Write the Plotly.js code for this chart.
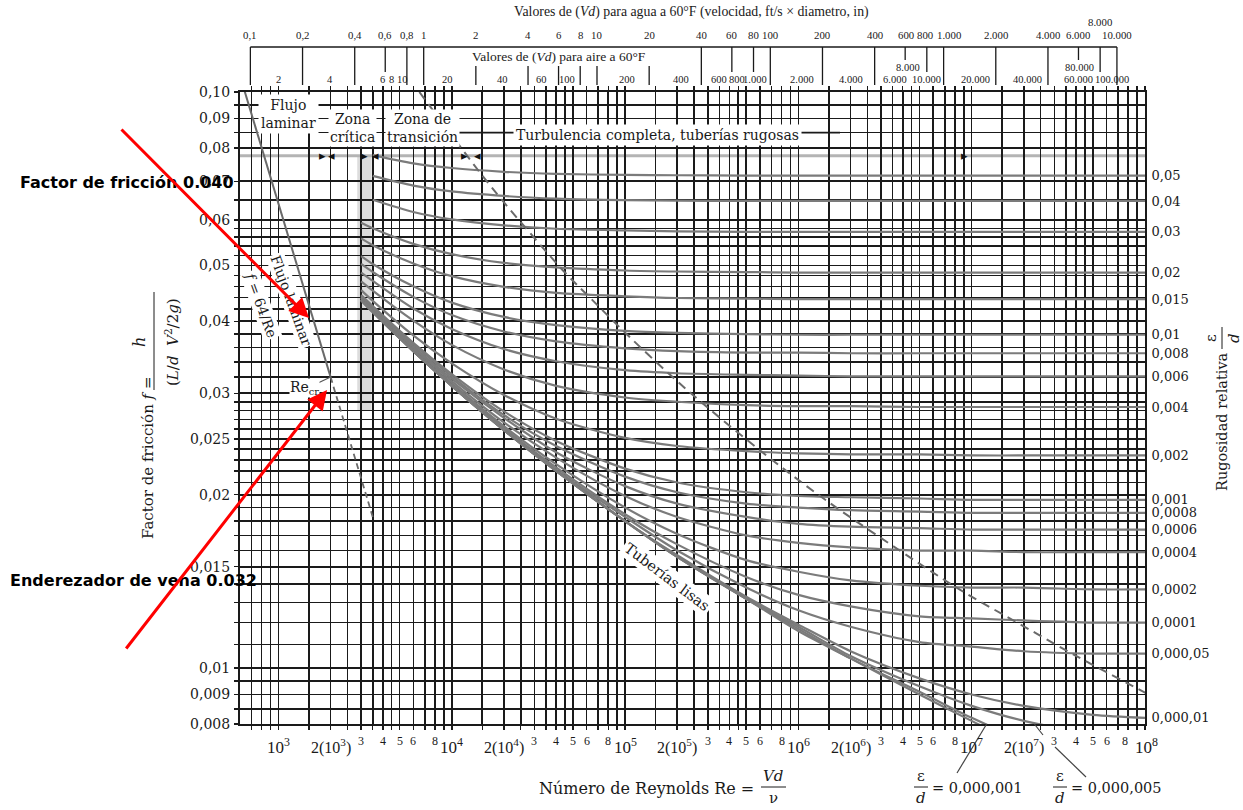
<!DOCTYPE html>
<html><head><meta charset="utf-8">
<script src="https://cdn.plot.ly/plotly-3.0.1.min.js"></script>
<style>html,body{margin:0;padding:0;background:#fff}#chart{width:1243px;height:810px}</style>
</head><body><div id="chart"></div>
<script>
// ---------------- DATA ----------------
const reynolds = [3000, 3500, 6000, 10000, 20000, 40000, 100000, 200000, 500000, 1e6, 2e6, 5e6, 1e7, 2e7, 5e7, 1e8];

const f_0_05     = [null, 0.0777, 0.0752, 0.0738, 0.0727, 0.0721, 0.0718, 0.0717, 0.0716, 0.0716, 0.0716, 0.0716, 0.0716, 0.0716, 0.0716, 0.0716];
const f_0_04     = [null, 0.0715, 0.0688, 0.0672, 0.0660, 0.0653, 0.0649, 0.0648, 0.0647, 0.0647, 0.0647, 0.0647, 0.0647, 0.0647, 0.0647, 0.0647];
const f_0_03     = [null, 0.0650, 0.0619, 0.0601, 0.0587, 0.0579, 0.0575, 0.0573, 0.0572, 0.0572, 0.0572, 0.0572, 0.0572, 0.0572, 0.0572, 0.0572];
const f_0_02     = [0.0593, 0.0580, 0.0545, 0.0523, 0.0505, 0.0496, 0.0490, 0.0488, 0.0487, 0.0486, 0.0486, 0.0486, 0.0486, 0.0486, 0.0486, 0.0486];
const f_0_015    = [0.0557, 0.0542, 0.0504, 0.0479, 0.0459, 0.0448, 0.0442, 0.0439, 0.0438, 0.0437, 0.0437, 0.0437, 0.0437, 0.0437, 0.0437, 0.0437];
const f_0_01     = [0.0519, 0.0503, 0.0460, 0.0431, 0.0407, 0.0394, 0.0385, 0.0382, 0.0380, 0.0379, 0.0379, 0.0379, 0.0379, 0.0379, 0.0379, 0.0379];
const f_0_008    = [0.0503, 0.0487, 0.0441, 0.0410, 0.0384, 0.0369, 0.0359, 0.0355, 0.0353, 0.0353, 0.0352, 0.0352, 0.0352, 0.0352, 0.0352, 0.0352];
const f_0_006    = [0.0486, 0.0470, 0.0421, 0.0388, 0.0358, 0.0341, 0.0329, 0.0325, 0.0323, 0.0322, 0.0321, 0.0321, 0.0321, 0.0321, 0.0321, 0.0321];
const f_0_004    = [0.0469, 0.0452, 0.0401, 0.0364, 0.0330, 0.0309, 0.0295, 0.0290, 0.0286, 0.0285, 0.0285, 0.0284, 0.0284, 0.0284, 0.0284, 0.0284];
const f_0_002    = [0.0453, 0.0434, 0.0378, 0.0338, 0.0298, 0.0271, 0.0251, 0.0243, 0.0238, 0.0236, 0.0235, 0.0235, 0.0234, 0.0234, 0.0234, 0.0234];
const f_0_001    = [0.0444, 0.0425, 0.0367, 0.0324, 0.0279, 0.0248, 0.0222, 0.0210, 0.0202, 0.0199, 0.0198, 0.0197, 0.0196, 0.0196, 0.0196, 0.0196];
const f_0_0008   = [0.0442, 0.0423, 0.0365, 0.0321, 0.0275, 0.0243, 0.0215, 0.0202, 0.0193, 0.0190, 0.0188, 0.0187, 0.0186, 0.0186, 0.0186, 0.0186];
const f_0_0006   = [0.0440, 0.0421, 0.0362, 0.0318, 0.0272, 0.0237, 0.0207, 0.0193, 0.0183, 0.0178, 0.0176, 0.0175, 0.0174, 0.0174, 0.0174, 0.0174];
const f_0_0004   = [0.0439, 0.0419, 0.0360, 0.0315, 0.0267, 0.0232, 0.0199, 0.0183, 0.0170, 0.0165, 0.0162, 0.0160, 0.0160, 0.0159, 0.0159, 0.0159];
const f_0_0002   = [0.0437, 0.0417, 0.0357, 0.0312, 0.0263, 0.0226, 0.0190, 0.0171, 0.0154, 0.0147, 0.0142, 0.0139, 0.0138, 0.0138, 0.0137, 0.0137];
const f_0_0001   = [0.0436, 0.0416, 0.0356, 0.0310, 0.0261, 0.0223, 0.0185, 0.0164, 0.0144, 0.0134, 0.0128, 0.0123, 0.0122, 0.0121, 0.0120, 0.0120];
const f_0_00005  = [0.0436, 0.0416, 0.0356, 0.0310, 0.0260, 0.0221, 0.0183, 0.0160, 0.0138, 0.0126, 0.0118, 0.0111, 0.0109, 0.0107, 0.0106, 0.0106];
const f_0_00001  = [0.0435, 0.0415, 0.0355, 0.0309, 0.0259, 0.0220, 0.0180, 0.0157, 0.0133, 0.0119, 0.0107, 0.0096, 0.0090, 0.0086, 0.0083, 0.0082];
const f_0_000005 = [0.0435, 0.0415, 0.0355, 0.0309, 0.0259, 0.0220, 0.0180, 0.0156, 0.0132, 0.0118, 0.0105, 0.0093, 0.0086, 0.0081, 0.0077, 0.0075];
const f_0_000001 = [0.0435, 0.0415, 0.0355, 0.0309, 0.0259, 0.0220, 0.0180, 0.0156, 0.0132, 0.0117, 0.0104, 0.0091, 0.0082, 0.0075, 0.0069, 0.0066];
const f_smooth   = [0.0435, 0.0415, 0.0355, 0.0309, 0.0259, 0.0220, 0.0180, 0.0156, 0.0132, 0.0116, 0.0104, 0.0090, 0.0081, 0.0073, 0.0065, 0.0060];

const labelledCurves = [f_0_05, f_0_04, f_0_03, f_0_02, f_0_015, f_0_01, f_0_008, f_0_006, f_0_004, f_0_002,
  f_0_001, f_0_0008, f_0_0006, f_0_0004, f_0_0002, f_0_0001, f_0_00005, f_0_00001];
const roughnessLabels = ['0,05','0,04','0,03','0,02','0,015','0,01','0,008','0,006','0,004','0,002',
  '0,001','0,0008','0,0006','0,0004','0,0002','0,0001','0,000,05','0,000,01'];
const extraCurves = [f_0_000005, f_0_000001, f_smooth];

// laminar flow line and its dashed continuation
const reLaminar = [600, 2000];
const fLaminar = [0.1067, 0.032];
const reLaminarExt = [2000, 3500];
const fLaminarExt = [0.032, 0.0183];

// boundary of complete turbulence (dashed)
const reBoundary = [6500, 15000, 19700, 27900, 45000, 64000, 103000, 186000, 297000, 654000, 1.43e6, 3.97e6, 8.5e6, 1.83e7, 3.9e7, 1.05e8];
const fBoundary  = [0.1000, 0.0716, 0.0647, 0.0572, 0.0486, 0.0437, 0.0379, 0.0321, 0.0284, 0.0234, 0.0196, 0.0159, 0.0137, 0.0120, 0.01055, 0.0090];

// axis tick labels
const yLabelVals = [0.008, 0.009, 0.01, 0.015, 0.02, 0.025, 0.03, 0.04, 0.05, 0.06, 0.07, 0.08, 0.09, 0.1];
const yLabelText = ['0,008','0,009','0,01','0,015','0,02','0,025','0,03','0,04','0,05','0,06','0,07','0,08','0,09','0,10'];
const yGrid = [0.008, 0.0085, 0.009, 0.0095, 0.01, 0.011, 0.012, 0.013, 0.014, 0.015, 0.016, 0.017, 0.018, 0.019,
  0.02, 0.021, 0.022, 0.023, 0.024, 0.025, 0.026, 0.027, 0.028, 0.029, 0.03, 0.032, 0.034, 0.036, 0.038,
  0.04, 0.042, 0.044, 0.046, 0.048, 0.05, 0.052, 0.054, 0.056, 0.058, 0.06, 0.065, 0.07, 0.08, 0.085, 0.09, 0.095, 0.1];
const xGridMantissas = [1, 1.5, 2, 2.5, 3, 3.5, 4, 4.5, 5, 6, 7, 8, 9];

const reDecadeVals = [1e3, 1e4, 1e5, 1e6, 1e7, 1e8];
const reDecadeText = ['10<sup>3</sup>','10<sup>4</sup>','10<sup>5</sup>','10<sup>6</sup>','10<sup>7</sup>','10<sup>8</sup>'];
const reTwoVals = [2e3, 2e4, 2e5, 2e6, 2e7];
const reTwoText = ['2(10<sup>3</sup>)','2(10<sup>4</sup>)','2(10<sup>5</sup>)','2(10<sup>6</sup>)','2(10<sup>7</sup>)'];
const reDigitMantissas = [3, 4, 5, 6, 8];
const reDigitDecades = [1e3, 1e4, 1e5, 1e6, 1e7];

// top scales: Vd values (ft/s x in) for water and air at 60 F
const waterVd = [0.1, 0.2, 0.4, 0.6, 0.8, 1, 2, 4, 6, 8, 10, 20, 40, 60, 80, 100, 200, 400, 600, 800, 1000, 2000, 4000, 6000, 8000, 10000];
const waterText = ['0,1','0,2','0,4','0,6','0,8','1','2','4','6','8','10','20','40','60','80','100','200','400','600','800','1.000','2.000','4.000','6.000','8.000','10.000'];
const airVd = [2, 4, 6, 8, 10, 20, 40, 60, 100, 200, 400, 600, 800, 1000, 2000, 4000, 6000, 8000, 10000, 20000, 40000, 60000, 80000, 100000];
const airText = ['2','4','6','8','10','20','40','60','100','200','400','600','800','1.000','2.000','4.000','6.000','8.000','10.000','20.000','40.000','60.000','80.000','100.000'];
const waterReFactor = 6887;  // Re per unit Vd, water 60F
const airReFactor = 527;     // Re per unit Vd, air 60F

// ---------------- STYLE / GEOMETRY ----------------
const waterTickKind = ['F','F','F','M','F','F','B','B','B','B','B','B','F','M','M','F','F','F','S','M','F','F','F','S','M','F'];
const waterShift = {'600': 1, '800': -2, '1.000': 5};
const waterRaised = {'8.000': true};
const airShift = [-4,-5,17,5,-1,-8,-5,3,-10,-2,0,7,4,5,0,-4,10,1,3,0,0,20,0,15];
const airRaised = {'8.000': true, '80.000': true};

const X0 = Math.log10(600), X1 = 8, Y0 = Math.log10(0.008), Y1 = -1;
const L = 240, T = 92, W = 905, H = 632;
const xp = re => (Math.log10(re) - X0) / (X1 - X0);
const yp = f => (Math.log10(f) - Y0) / (Y1 - Y0);
const pX = x => (x - L) / W;
const pY = y => (T + H - y) / H;

const serif = 'Liberation Serif, Times New Roman, serif';
const wide = 'DejaVu Serif, serif';
const ink = '#1a1a1a';
const curveColor = '#7b7b7b';
const gridColor = '#1a1a1a';

const xGrid = [700, 800, 900];
for (let d = 3; d <= 7; d++) xGridMantissas.forEach(m => xGrid.push(m * Math.pow(10, d)));
xGrid.push(1e8);

// ---------------- TRACES ----------------
const traces = [];
labelledCurves.concat(extraCurves).forEach(f => {
  traces.push({x: reynolds, y: f, type: 'scatter', mode: 'lines', line: {color: curveColor, width: 2.2, shape: 'spline', smoothing: 0.8}, hoverinfo: 'skip', showlegend: false});
});
traces.push({x: reLaminar, y: fLaminar, type: 'scatter', mode: 'lines', line: {color: '#6a6a6a', width: 2}, hoverinfo: 'skip', showlegend: false});
traces.push({x: reLaminarExt, y: fLaminarExt, type: 'scatter', mode: 'lines', line: {color: '#6a6a6a', width: 1.8, dash: '6px,4px'}, hoverinfo: 'skip', showlegend: false});
traces.push({x: reBoundary, y: fBoundary, type: 'scatter', mode: 'lines', line: {color: '#6a6a6a', width: 2, dash: '9px,6px', shape: 'spline'}, hoverinfo: 'skip', showlegend: false});
// carriers for the label axes
const rightVals = labelledCurves.map(f => f[f.length - 1]);
traces.push({x: [1e8], y: [0.05], yaxis: 'y2', type: 'scatter', mode: 'markers', marker: {opacity: 0}, hoverinfo: 'skip', showlegend: false});
traces.push({x: [1e8], y: [0.05], yaxis: 'y3', type: 'scatter', mode: 'markers', marker: {opacity: 0}, hoverinfo: 'skip', showlegend: false});

// ---------------- SHAPES & ANNOTATIONS ----------------
const shapes = [];
const annotations = [];
function lineP(x0, y0, x1, y1, color, width, layer) {
  shapes.push({type: 'line', xref: 'paper', yref: 'paper', x0: pX(x0), y0: pY(y0), x1: pX(x1), y1: pY(y1), line: {color: color, width: width}, layer: layer || 'above'});
}
function text(t, x, y, o) {
  o = o || {};
  const a = {text: t, xref: 'paper', yref: 'paper', x: x, y: y, showarrow: false, xanchor: 'center', yanchor: 'middle',
    font: Object.assign({family: serif, size: 14, color: ink}, o.font || {})};
  Object.keys(o).forEach(k => { if (k !== 'font') a[k] = o[k]; });
  annotations.push(a);
}

// critical zone shading
shapes.push({type: 'rect', xref: 'paper', yref: 'paper', x0: xp(2850), x1: xp(3450), y0: yp(0.028), y1: yp(0.0775), fillcolor: '#dcdcdc', line: {width: 0}, layer: 'between'});
// white band behind the complete-turbulence label, with its grid line kept
shapes.push({type: 'rect', xref: 'paper', yref: 'paper', x0: pX(458), x1: pX(840), y0: pY(147), y1: pY(121), fillcolor: '#fff', line: {width: 0}, layer: 'between'});
shapes.push({type: 'line', xref: 'paper', yref: 'paper', x0: pX(458), x1: pX(840), y0: yp(0.085), y1: yp(0.085), line: {color: gridColor, width: 1.6}, layer: 'between'});
// zone line
shapes.push({type: 'line', xref: 'paper', yref: 'paper', x0: 0, x1: 1, y0: yp(0.0775), y1: yp(0.0775), line: {color: '#b4b4b4', width: 3}, layer: 'between'});

// zone arrow marks
[[322,'▸'],[331,'◂'],[364,'▸'],[375,'◂'],[464,'▸'],[477,'◂'],[964,'▸']].forEach(a => {
  text(a[1], pX(a[0]), yp(0.0775), {font: {size: 13, color: '#111', family: 'DejaVu Sans'}});
});

// zone labels
const zoneFont = {family: wide, size: 14};
text('Flujo<br>laminar', pX(288), pY(114), {font: zoneFont, bgcolor: '#fff', borderpad: 2});
text('Zona<br>crítica', pX(352), pY(128), {font: zoneFont, bgcolor: '#fff', borderpad: 1});
text('Zona de<br>transición', pX(422), pY(128), {font: zoneFont, bgcolor: '#fff', borderpad: 1});
text('Turbulencia completa, tuberías rugosas', pX(657), pY(135), {font: zoneFont, bgcolor: '#fff', borderpad: 2});

// laminar labels
text('Flujo laminar', pX(291), pY(300), {font: zoneFont, textangle: 70, bgcolor: '#fff', borderpad: 1});
text('<i>f</i> = 64/Re', pX(261), pY(305), {font: zoneFont, textangle: 70, bgcolor: '#fff', borderpad: 1});
text('Re<sub>cr</sub>', pX(304), pY(388), {font: zoneFont, bgcolor: '#fff', borderpad: 0});
lineP(318, 383, xp(2000) * W + L, 377, '#555', 1.2);
text('Tuberías lisas', pX(667), pY(577), {font: {family: wide, size: 14.5}, textangle: 37, bgcolor: '#fff', borderpad: 2});

// bottom tick labels
reDecadeVals.forEach((v, i) => text(reDecadeText[i], xp(v), pY(746), {font: {size: 17}, xshift: v === 1e8 ? 1 : 0}));
reTwoVals.forEach((v, i) => text(reTwoText[i], xp(v), pY(746), {font: {size: 16}}));
reDigitDecades.forEach(d => reDigitMantissas.forEach(m => text(String(m), xp(m * d), pY(741), {font: {size: 12}, xshift: (d === 1e7 && m === 8) ? -3 : 0})));

// axis titles
text('Número de Reynolds Re =', pX(646), pY(788), {font: {family: wide, size: 16}});
text('<i>Vd</i>', pX(773), pY(776), {font: {family: wide, size: 15}});
text('ν', pX(773), pY(798), {font: {family: wide, size: 15}});
lineP(761, 787, 786, 787, ink, 1);

text('ε', pX(921), pY(776), {font: {family: wide, size: 15}});
text('<i>d</i>', pX(921), pY(798), {font: {family: wide, size: 15}});
lineP(914, 787, 928, 787, ink, 1);
text('= 0,000,001', pX(930), pY(788), {font: {family: wide, size: 14.5}, xanchor: 'left'});
text('ε', pX(1060), pY(776), {font: {family: wide, size: 15}});
text('<i>d</i>', pX(1060), pY(798), {font: {family: wide, size: 15}});
lineP(1053, 787, 1067, 787, ink, 1);
text('= 0,000,005', pX(1069), pY(788), {font: {family: wide, size: 14.5}, xanchor: 'left'});
lineP(xp(1.22e7) * W + L, 724, 957, 773, '#444', 1.2);
lineP(xp(2.3e7) * W + L, 724, 1043, 735, '#444', 1.2);
lineP(1055, 747, 1086, 777, '#444', 1.2);

// left title
text('Factor de fricción <i>f</i> =', pX(148), pY(458), {font: {family: wide, size: 15}, textangle: -90});
text('<i>h</i>', pX(139), pY(342), {font: {family: wide, size: 16}, textangle: -90});
lineP(154, 292, 154, 390, ink, 1);
text('(<i>L</i>/<i>d</i>  <i>V</i><sup>2</sup>/2<i>g</i>)', pX(172), pY(342), {font: {family: wide, size: 15}, textangle: -90});

// right title
text('Rugosidad relativa', pX(1222), pY(422), {font: {family: wide, size: 14.5}, textangle: -90});
text('ε', pX(1211), pY(338), {font: {family: wide, size: 15}, textangle: -90});
text('<i>d</i>', pX(1234), pY(338), {font: {family: wide, size: 15}, textangle: -90});
lineP(1222, 327, 1222, 349, ink, 1);

// top scales
text('Valores de (<i>Vd</i>) para agua a 60°F (velocidad, ft/s × diametro, in)', pX(691), pY(12), {font: {size: 13.8}});
text('Valores de (<i>Vd</i>) para aire a 60°F', pX(559), pY(57), {font: {size: 13.5}});
const xw = v => xp(v * waterReFactor) * W + L;
lineP(xw(waterVd[0]), 47, xw(waterVd[waterVd.length - 1]), 47, ink, 1.3);
waterVd.forEach((v, i) => {
  const x = xw(v), k = waterTickKind[i];
  const y0 = k === 'B' ? 66 : 47;
  const y1 = k === 'S' ? 60 : (k === 'M' ? 72 : 85);
  lineP(x, y0, x, y1, ink, 1.3);
  text(waterText[i], pX(x + (waterShift[waterText[i]] || 0)), pY(waterRaised[waterText[i]] ? 22 : 35), {font: {size: 10.8}});
});
airVd.forEach((v, i) => {
  const x = xp(v * airReFactor) * W + L + airShift[i];
  text(airText[i], pX(x), pY(airRaised[airText[i]] ? 67 : 80), {font: {size: 10.5}});
});

// red annotations
const boldSans = {family: 'DejaVu Sans, Arial, sans-serif', size: 16, color: '#000'};
text('<b>Factor de fricción 0.040</b>', pX(18), pY(182), {font: boldSans, xanchor: 'left'});
text('<b>Enderezador de vena 0.032</b>', pX(8), pY(580), {font: boldSans, xanchor: 'left'});
annotations.push({xref: 'paper', yref: 'paper', x: pX(309), y: pY(318), ax: -189, ay: -190, axref: 'pixel', ayref: 'pixel', text: '', showarrow: true, arrowhead: 2, arrowsize: 1.3, arrowwidth: 3, arrowcolor: '#ff0000', standoff: 0});
annotations.push({xref: 'paper', yref: 'paper', x: pX(327), y: pY(390), ax: -202, ay: 260, axref: 'pixel', ayref: 'pixel', text: '', showarrow: true, arrowhead: 2, arrowsize: 1.3, arrowwidth: 3, arrowcolor: '#ff0000', standoff: 0});

// ---------------- LAYOUT ----------------
const layout = {
  width: 1243, height: 810, autosize: false,
  margin: {l: L, r: 1243 - L - W, t: T, b: 810 - T - H, pad: 0},
  paper_bgcolor: '#fff', plot_bgcolor: '#fff', showlegend: false,
  font: {family: serif, color: ink},
  xaxis: {type: 'log', range: [X0, X1], tickmode: 'array', tickvals: xGrid, showticklabels: false,
    showgrid: true, gridcolor: gridColor, gridwidth: 1.6, zeroline: false,
    ticks: 'outside', ticklen: 4, tickcolor: gridColor, tickwidth: 1.5,
    showline: true, mirror: 'ticks', linecolor: gridColor, linewidth: 2, fixedrange: true},
  yaxis: {type: 'log', range: [Y0, Y1], tickmode: 'array', tickvals: yGrid, showticklabels: false,
    showgrid: true, gridcolor: gridColor, gridwidth: 1.6, zeroline: false,
    ticks: 'outside', ticklen: 4, tickcolor: gridColor, tickwidth: 1.5,
    showline: true, mirror: true, linecolor: gridColor, linewidth: 2, fixedrange: true},
  yaxis3: {type: 'log', range: [Y0, Y1], overlaying: 'y', side: 'left', tickmode: 'array',
    tickvals: yLabelVals, ticktext: yLabelText, tickfont: {family: wide, size: 14, color: ink},
    showgrid: false, zeroline: false, ticks: 'outside', ticklen: 6, tickcolor: 'rgba(0,0,0,0)', showline: false, fixedrange: true},
  yaxis2: {type: 'log', range: [Y0, Y1], overlaying: 'y', side: 'right', tickmode: 'array',
    tickvals: rightVals, ticktext: roughnessLabels, tickfont: {family: wide, size: 13, color: ink},
    showgrid: false, zeroline: false, ticks: 'outside', ticklen: 3, tickcolor: 'rgba(0,0,0,0)', showline: false, fixedrange: true},
  shapes: shapes,
  annotations: annotations
};

Plotly.newPlot('chart', traces, layout, {displayModeBar: false, staticPlot: true});
</script>
</body></html>
